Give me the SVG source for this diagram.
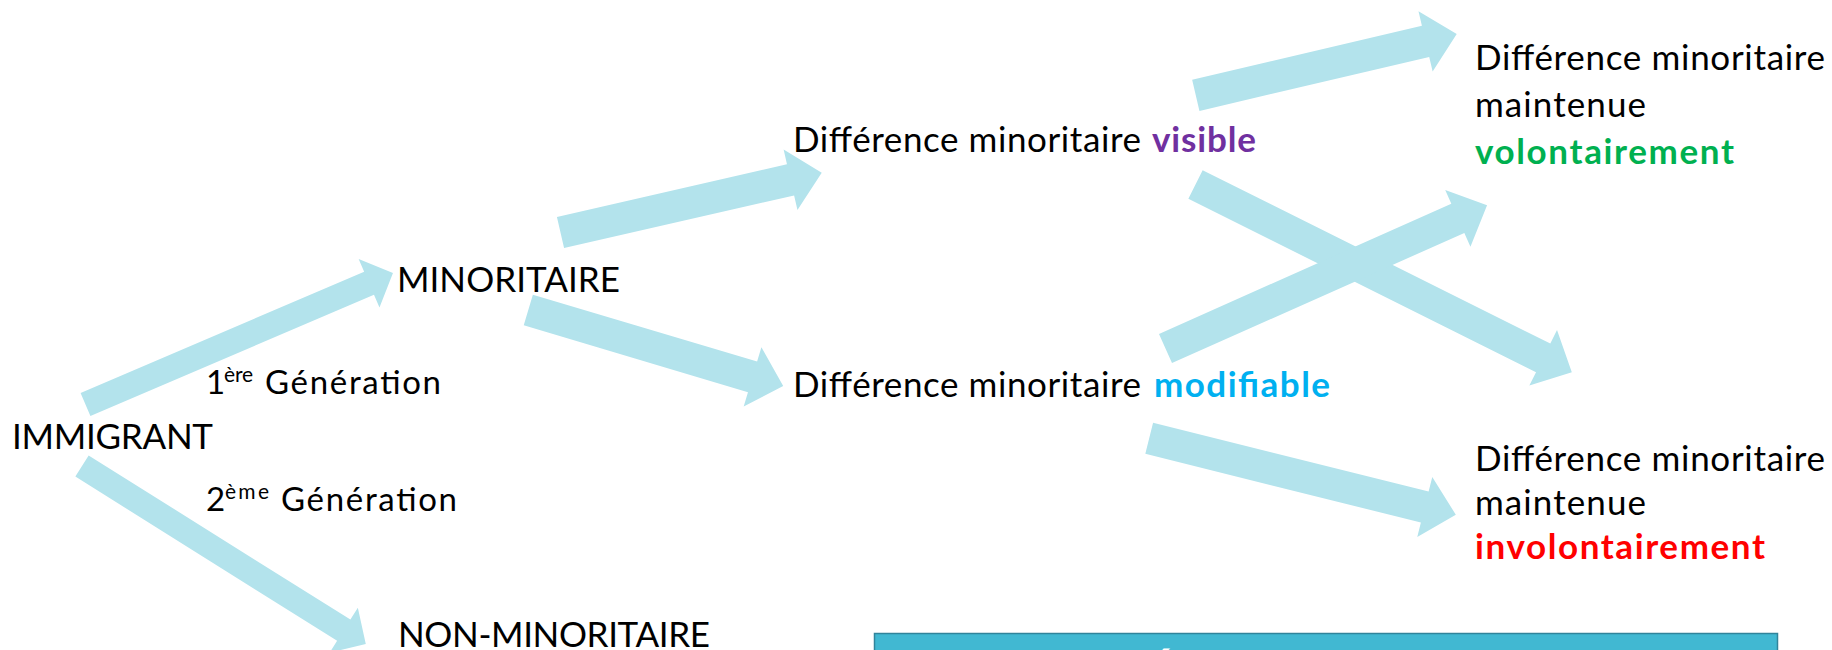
<svg xmlns="http://www.w3.org/2000/svg" width="1832" height="650" viewBox="0 0 1832 650">
<style>
.arr{fill:#B3E3EC;stroke:none}
text{font-family:Lato,"Open Sans","Liberation Sans",sans-serif;fill:#000}
.t{font-size:35px}
.g{font-size:33px}
.sup{font-size:21px}
.b{font-weight:bold}
</style>
<rect width="1832" height="650" fill="#fff"/>
<g id="connectors">
<polygon class="arr" transform="translate(85.5,404.5) rotate(-23.15)" points="0,-12.5 308.4,-12.5 308.4,-26.5 334.4,0 308.4,26.5 308.4,12.5 0,12.5"/>
<polygon class="arr" transform="translate(82,466) rotate(32.1)" points="0,-12.5 309,-12.5 309,-26.5 335,0 309,26.5 309,12.5 0,12.5"/>
<polygon class="arr" transform="translate(560.5,232.5) rotate(-12.9)" points="0,-16 236,-16 236,-31 268,0 236,31 236,16 0,16"/>
<polygon class="arr" transform="translate(528.3,310) rotate(16.6)" points="0,-16 234,-16 234,-31 266,0 234,31 234,16 0,16"/>
<polygon class="arr" transform="translate(1195.8,95.3) rotate(-13.2)" points="0,-16 236,-16 236,-31 268,0 236,31 236,16 0,16"/>
<polygon class="arr" transform="translate(1195.5,184.5) rotate(26.5)" points="0,-16 388.5,-16 388.5,-31 420.5,0 388.5,31 388.5,16 0,16"/>
<polygon class="arr" transform="translate(1165.5,348.5) rotate(-24)" points="0,-16 320,-16 320,-31 352,0 320,31 320,16 0,16"/>
<polygon class="arr" transform="translate(1149.2,438.3) rotate(14)" points="0,-16 284,-16 284,-31 316,0 284,31 284,16 0,16"/>
</g>
<g id="immigrant"><text class="t" x="12" y="449" textLength="201">IMMIGRANT</text></g>
<g id="gen1"><text class="g" x="206" y="394">1<tspan class="sup" x="224" dy="-12" textLength="29">ère</tspan><tspan x="265" dy="12" textLength="176">Génération</tspan></text></g>
<g id="gen2"><text class="g" x="206" y="511">2<tspan class="sup" x="225" dy="-12" textLength="44">ème</tspan><tspan x="281" dy="12" textLength="176">Génération</tspan></text></g>
<g id="minoritaire"><text class="t" x="397" y="292" textLength="223">MINORITAIRE</text></g>
<g id="non-minoritaire"><text class="t" x="398" y="647" textLength="312">NON-MINORITAIRE</text></g>
<g id="visible">
<text class="t" x="793" y="152" textLength="348">Différence minoritaire</text>
<text class="t b" x="1152" y="152" textLength="104" style="fill:#7030A0">visible</text>
</g>
<g id="modifiable">
<text class="t" x="793" y="397" textLength="348">Différence minoritaire</text>
<text class="t b" x="1154" y="397" textLength="176" style="fill:#00B0F0">modifiable</text>
</g>
<g id="volontaire">
<text class="t" x="1475" y="70" textLength="350">Différence minoritaire</text>
<text class="t" x="1475" y="117" textLength="171">maintenue</text>
<text class="t b" x="1475" y="164" textLength="259" style="fill:#00B050">volontairement</text>
</g>
<g id="involontaire">
<text class="t" x="1475" y="471" textLength="350">Différence minoritaire</text>
<text class="t" x="1475" y="515" textLength="171">maintenue</text>
<text class="t b" x="1475" y="559" textLength="290" style="fill:#FF0000">involontairement</text>
</g>
<g id="box">
<rect x="874.5" y="633.5" width="903" height="60" fill="#41B8D2" stroke="#31849B" stroke-width="1.5"/>
<text x="1150" y="684" font-size="38" font-weight="bold" style="fill:#fff">É</text>
</g>
</svg>
